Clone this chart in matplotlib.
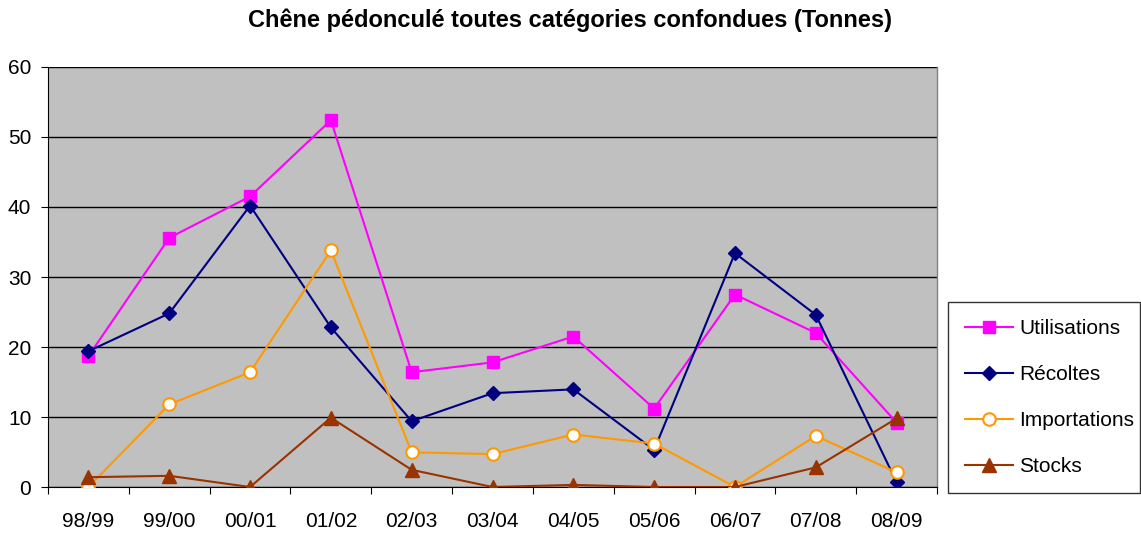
import numpy as np
import matplotlib.pyplot as plt

# years (campagnes)
saisons = ['98/99', '99/00', '00/01', '01/02', '02/03', '03/04',
           '04/05', '05/06', '06/07', '07/08', '08/09']

utilisations = [18.7, 35.6, 41.5, 52.4, 16.4, 17.8, 21.5, 11.2, 27.5, 22.0, 9.2]
recoltes = [19.4, 24.8, 40.2, 22.8, 9.4, 13.4, 13.95, 5.3, 33.4, 24.6, 0.7]
importations = [0.0, 11.8, 16.4, 33.8, 4.95, 4.7, 7.5, 6.2, 0.0, 7.3, 2.1]
stocks = [1.4, 1.6, 0.0, 9.9, 2.45, 0.0, 0.3, 0.0, 0.0, 2.8, 9.8]

fig = plt.figure(figsize=(11.41, 5.33), dpi=100)
ax = fig.add_axes([0.0421, 0.0863, 0.7791, 0.788])
ax.set_facecolor('#C0C0C0')

x = np.arange(len(saisons))
l1, = ax.plot(x, utilisations, color='#FF00FF', lw=1.5, marker='s', ms=8.5,
              mfc='#FF00FF', mec='#FF00FF', label='Utilisations', zorder=3)
l2, = ax.plot(x, recoltes, color='#000080', lw=1.5, marker='D', ms=7.5,
              mfc='#000080', mec='#000080', label='Récoltes', zorder=4)
l3, = ax.plot(x, importations, color='#FF9900', lw=1.5, marker='o', ms=9,
              mfc='white', mec='#FF9900', mew=1.5, label='Importations', zorder=5)
l4, = ax.plot(x, stocks, color='#993300', lw=1.5, marker='^', ms=10,
              mfc='#993300', mec='#993300', label='Stocks', zorder=6)

ax.set_ylim(0, 60)
ax.set_xlim(-0.5, len(saisons) - 0.5)
ax.set_yticks(np.arange(0, 61, 10))
ax.yaxis.grid(True, color='black', lw=1)
ax.set_axisbelow(True)

# ticks between categories, labels at centres
ax.set_xticks(np.arange(-0.5, len(saisons), 1.0))
ax.set_xticklabels([])
ax.set_xticks(x, minor=True)
ax.set_xticklabels(saisons, minor=True)
ax.tick_params(axis='x', which='major', direction='out', length=5, color='black')
ax.tick_params(axis='x', which='minor', length=0, pad=18, labelsize=15)
ax.tick_params(axis='y', direction='out', length=5, labelsize=15, pad=7)

for s in ['top', 'right']:
    ax.spines[s].set_color('#808080')
    ax.spines[s].set_linewidth(1)
ax.spines['top'].set_visible(False)
ax.spines['left'].set_color('black')
ax.spines['bottom'].set_color('black')

fig.text(0.5, 0.962, 'Chêne pédonculé toutes catégories confondues (Tonnes)',
         ha='center', va='center', fontsize=17, fontweight='bold',
         family='Liberation Sans')

leg = fig.legend(handles=[l1, l2, l3, l4], loc='upper left',
                 bbox_to_anchor=(0.831, 0.075, 0.168, 0.358), mode='expand',
                 frameon=True, fancybox=False, edgecolor='black',
                 borderaxespad=0, labelspacing=1.3, handlelength=2.3,
                 borderpad=0.8, handletextpad=0.3,
                 prop={'family': 'Liberation Sans', 'size': 15})
leg.get_frame().set_linewidth(1)

for t in ax.get_xticklabels(minor=True) + ax.get_yticklabels():
    t.set_family('Liberation Sans')

fig.savefig('out.png', dpi=100)
